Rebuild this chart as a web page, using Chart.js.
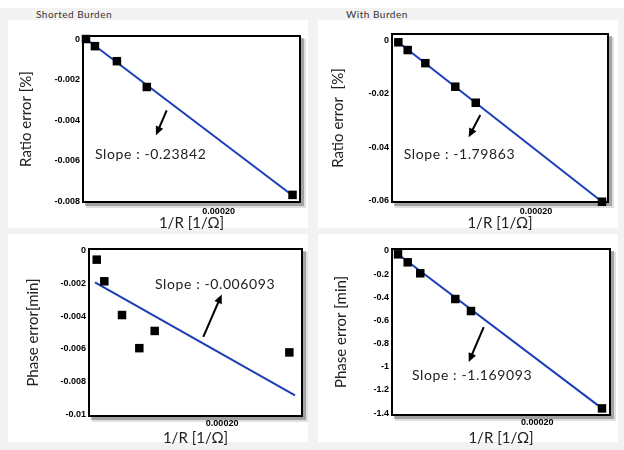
<!DOCTYPE html>
<html>
<head>
<meta charset="utf-8">
<script src="https://cdn.jsdelivr.net/npm/chart.js@4.4.1/dist/chart.umd.min.js"></script>
<style>
  html, body { margin: 0; padding: 0; background: #ffffff; }
  #wrap { position: relative; width: 624px; height: 450px; overflow: hidden; background: #ffffff; }
  .bg { position: absolute; background: #f2f2f2; }
  .panel { position: absolute; background: #ffffff; }
  .hdr { position: absolute; font-family: Lato, "Open Sans", sans-serif; font-size: 10px; color: #333; letter-spacing: 0.5px; }
  canvas { position: absolute; }
</style>
</head>
<body>
<div id="wrap">
  <div class="bg" style="left:0;top:8px;width:624px;height:442px;"></div>
  <div class="panel" style="left:8px;top:20px;width:300px;height:208px;"></div>
  <div class="panel" style="left:318px;top:20px;width:300px;height:208px;"></div>
  <div class="panel" style="left:8px;top:234px;width:300px;height:208px;"></div>
  <div class="panel" style="left:318px;top:234px;width:300px;height:208px;"></div>
  <div class="hdr" style="left:36px;top:8px;">Shorted Burden</div>
  <div class="hdr" style="left:346px;top:8px;">With Burden</div>
  <canvas id="c1" width="312" height="232" style="left:0;top:0;"></canvas>
  <canvas id="c2" width="312" height="232" style="left:312px;top:0;"></canvas>
  <canvas id="c3" width="312" height="218" style="left:0;top:232px;"></canvas>
  <canvas id="c4" width="312" height="218" style="left:312px;top:232px;"></canvas>
</div>
<script>
// ---------- data ----------
const xRatioShorted = [0.0000044, 0.0000176, 0.00005, 0.0000941, 0.000309];
const ratioShorted  = [0, -0.00035, -0.00109, -0.00236, -0.00767];
const fitRatioShortedX = [0.0000044, 0.000309];
const fitRatioShortedY = [0, -0.0077];

const xRatioWith = [0.0000088, 0.0000218, 0.0000463, 0.0000879, 0.0001163, 0.0002917];
const ratioWith  = [-0.0007, -0.0036, -0.0085, -0.0173, -0.0233, -0.0603];
const fitRatioWithX = [0.0000088, 0.0002917];
const fitRatioWithY = [-0.0007, -0.0603];

const xPhaseShorted = [0.0000116, 0.000023, 0.0000496, 0.0000756, 0.0000987, 0.000301];
const phaseShorted  = [-0.00056, -0.00188, -0.00394, -0.00596, -0.00491, -0.00622];
const fitPhaseShortedX = [0.000009, 0.0003095];
const fitPhaseShortedY = [-0.00194, -0.00884];

const xPhaseWith = [0.0000083, 0.0000216, 0.0000389, 0.0000871, 0.0001087, 0.000289];
const phaseWith  = [-0.029, -0.098, -0.193, -0.415, -0.519, -1.36];
const fitPhaseWithX = [0.0000083, 0.000289];
const fitPhaseWithY = [-0.029, -1.36];

const xTickValues = [0.0002];
const xTickLabels = ['0.00020'];
const yTicksRatioShorted = [0, -0.002, -0.004, -0.006, -0.008];
const yTicksRatioWith = [0, -0.02, -0.04, -0.06];
const yTicksPhaseShorted = [0, -0.002, -0.004, -0.006, -0.008, -0.01];
const yTicksPhaseWith = [0, -0.2, -0.4, -0.6, -0.8, -1, -1.2, -1.4];

const slopeLabels = ['Slope : -0.23842', 'Slope : -1.79863', 'Slope : -0.006093', 'Slope : -1.169093'];
const xTitle = '1/R [1/\u03A9]';
const yTitles = ['Ratio error [%]', 'Ratio error  [%]', 'Phase error[min]', 'Phase error [min]'];

// ---------- plugins ----------
const framePlugin = {
  id: 'frame',
  beforeDatasetsDraw(chart) {
    const a = chart.chartArea, ctx = chart.ctx;
    ctx.save();
    ctx.fillStyle = 'rgba(0,0,0,0.28)';
    ctx.fillRect(a.left + 2, a.top + 2, a.right - a.left + 2, a.bottom - a.top + 2);
    ctx.fillStyle = 'rgba(0,0,0,0.12)';
    ctx.fillRect(a.left + 3, a.top + 3, a.right - a.left + 3, a.bottom - a.top + 3);
    ctx.fillStyle = '#ffffff';
    ctx.fillRect(a.left, a.top, a.right - a.left, a.bottom - a.top);
    ctx.restore();
  },
  afterDatasetsDraw(chart) {
    const a = chart.chartArea, ctx = chart.ctx;
    ctx.save();
    ctx.strokeStyle = '#000';
    ctx.lineWidth = 2;
    ctx.strokeRect(a.left, a.top, a.right - a.left, a.bottom - a.top);
    // annotation
    const o = chart.options.plugins.annot;
    if (o) {
      const xs = chart.scales.x, ys = chart.scales.y;
      ctx.fillStyle = '#222';
      ctx.font = '14px Lato, "Open Sans", sans-serif';
      try { ctx.letterSpacing = '0.6px'; } catch (e) {}
      ctx.textBaseline = 'middle';
      ctx.textAlign = 'left';
      ctx.fillText(o.text, xs.getPixelForValue(o.tx), ys.getPixelForValue(o.ty));
      try { ctx.letterSpacing = '0px'; } catch (e) {}
      const x1 = xs.getPixelForValue(o.ax[0]), y1 = ys.getPixelForValue(o.ay[0]);
      const x2 = xs.getPixelForValue(o.ax[1]), y2 = ys.getPixelForValue(o.ay[1]);
      ctx.strokeStyle = '#000';
      ctx.lineWidth = 2;
      const ang = Math.atan2(y2 - y1, x2 - x1);
      ctx.beginPath();
      ctx.moveTo(x1, y1);
      ctx.lineTo(x2 - 5 * Math.cos(ang), y2 - 5 * Math.sin(ang));
      ctx.stroke();
      ctx.fillStyle = '#000';
      ctx.beginPath();
      ctx.moveTo(x2, y2);
      ctx.lineTo(x2 - 9 * Math.cos(ang) + 4 * Math.sin(ang), y2 - 9 * Math.sin(ang) - 4 * Math.cos(ang));
      ctx.lineTo(x2 - 9 * Math.cos(ang) - 4 * Math.sin(ang), y2 - 9 * Math.sin(ang) + 4 * Math.cos(ang));
      ctx.closePath();
      ctx.fill();
    }
    ctx.restore();
  }
};

function pts(xs, ys) { return xs.map((x, i) => ({ x: x, y: ys[i] })); }

function makeChart(id, cfg) {
  const tickFont = { family: '"Liberation Sans", Arial, sans-serif', size: 9, weight: 'bold' };
  const titleFont = { family: 'Lato, "Open Sans", sans-serif', size: 15 };
  return new Chart(document.getElementById(id), {
    type: 'scatter',
    data: {
      datasets: [
        {
          data: pts(cfg.x, cfg.y),
          pointStyle: 'rect',
          pointRadius: 6,
          pointHoverRadius: 6,
          backgroundColor: '#000',
          borderColor: '#000',
          borderWidth: 0,
          showLine: false,
          clip: false
        },
        {
          data: pts(cfg.fx, cfg.fy),
          showLine: true,
          pointRadius: 0,
          borderColor: '#1a3db8',
          borderWidth: 2,
          fill: false,
          clip: false
        }
      ]
    },
    options: {
      responsive: false,
      animation: false,
      events: [],
      layout: { padding: { top: cfg.padTop, right: cfg.padRight, left: 0, bottom: 0 } },
      plugins: {
        legend: { display: false },
        tooltip: { enabled: false },
        annot: cfg.annot
      },
      scales: {
        x: {
          type: 'linear',
          min: 0, max: cfg.xMax,
          grid: { display: false, drawTicks: false },
          border: { display: false },
          afterBuildTicks: s => { s.ticks = xTickValues.map(v => ({ value: v })); },
          afterFit: s => { s.height = cfg.xAxisH; },
          ticks: {
            padding: cfg.xTickPad,
            font: tickFont, color: '#000',
            maxRotation: 0,
            callback: (v) => xTickLabels[xTickValues.indexOf(v)]
          },
          title: { display: true, text: xTitle, font: titleFont, color: '#222', padding: { top: 0, bottom: cfg.xTitlePad } }
        },
        y: {
          type: 'linear',
          min: cfg.yMin, max: cfg.yMax,
          grid: { display: false, drawTicks: false },
          border: { display: false },
          afterBuildTicks: s => { s.ticks = cfg.yTicks.map(v => ({ value: v })); },
          afterFit: s => { s.width = cfg.yAxisW; },
          ticks: {
            padding: 3,
            font: tickFont, color: '#000',
            callback: (v) => String(v)
          },
          title: { display: true, text: cfg.yTitle, font: titleFont, color: '#222', padding: { top: cfg.yTitlePad, bottom: 0 } }
        }
      }
    },
    plugins: [framePlugin]
  });
}

makeChart('c1', {
  x: xRatioShorted, y: ratioShorted, fx: fitRatioShortedX, fy: fitRatioShortedY,
  xMax: 0.00032, yMin: -0.00802, yMax: 0.00015, yTicks: yTicksRatioShorted,
  padTop: 36, padRight: 12, xAxisH: 30, yAxisW: 83, xTickPad: 4, xTitlePad: 0, yTitlePad: 17,
  yTitle: yTitles[0],
  annot: { text: slopeLabels[0], tx: 0.0000177, ty: -0.00568, ax: [0.0001234, 0.0001076], ay: [-0.00351, -0.00474] }
});
makeChart('c2', {
  x: xRatioWith, y: ratioWith, fx: fitRatioWithX, fy: fitRatioWithY,
  xMax: 0.0003, yMin: -0.0604, yMax: 0.0024, yTicks: yTicksRatioWith,
  padTop: 34, padRight: 16, xAxisH: 30, yAxisW: 80, xTickPad: 4, xTitlePad: 0, yTitlePad: 17,
  yTitle: yTitles[1],
  annot: { text: slopeLabels[1], tx: 0.0000163, ty: -0.0428, ax: [0.0001226, 0.0001065], ay: [-0.0279, -0.0362] }
});
makeChart('c3', {
  x: xPhaseShorted, y: phaseShorted, fx: fitPhaseShortedX, fy: fitPhaseShortedY,
  xMax: 0.00032, yMin: -0.0101, yMax: 0.00009, yTicks: yTicksPhaseShorted,
  padTop: 17, padRight: 10, xAxisH: 34, yAxisW: 89, xTickPad: 2, xTitlePad: 3, yTitlePad: 24,
  yTitle: yTitles[2],
  annot: { text: slopeLabels[2], tx: 0.0000992, ty: -0.00205, ax: [0.0001717, 0.0001994], ay: [-0.00527, -0.00268] }
});
makeChart('c4', {
  x: xPhaseWith, y: phaseWith, fx: fitPhaseWithX, fy: fitPhaseWithY,
  xMax: 0.0003, yMin: -1.417, yMax: 0.017, yTicks: yTicksPhaseWith,
  padTop: 17, padRight: 14, xAxisH: 35, yAxisW: 80, xTickPad: 2, xTitlePad: 3, yTitlePad: 20,
  yTitle: yTitles[3],
  annot: { text: slopeLabels[3], tx: 0.0000275, ty: -1.076, ax: [0.0001262, 0.0001056], ay: [-0.658, -0.960] }
});
</script>
</body>
</html>
